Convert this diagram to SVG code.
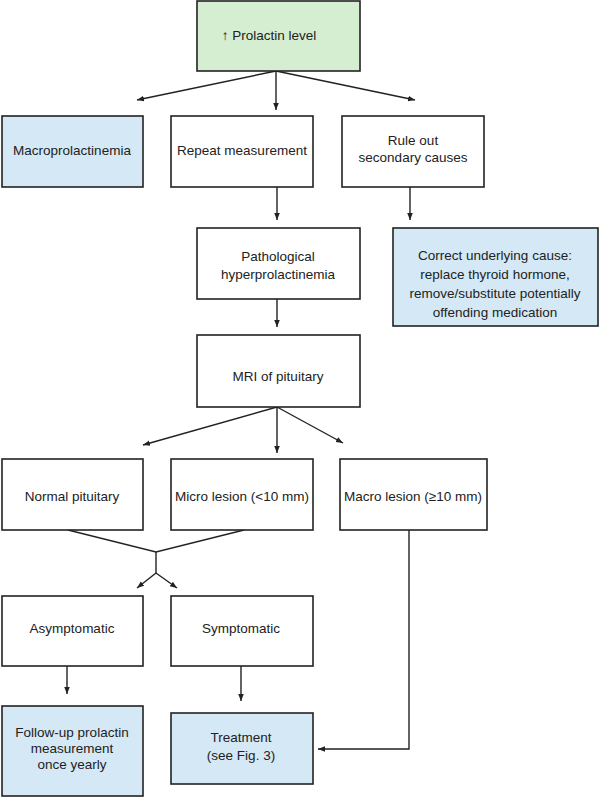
<svg xmlns="http://www.w3.org/2000/svg" width="600" height="797" viewBox="0 0 600 797">
<style>
.box{fill:#fff;stroke:#222;stroke-width:1.6}
.blue{fill:#d4e8f5}
.green{fill:#d5edd0}
text{font-family:"Liberation Sans","DejaVu Sans",sans-serif;font-size:13.5px;fill:#222;text-anchor:middle}
.ln{fill:none;stroke:#222;stroke-width:1.4}
</style>
<defs>
<marker id="ah" viewBox="0 0 10 10" refX="10" refY="5" markerWidth="7" markerHeight="7" orient="auto" markerUnits="userSpaceOnUse">
<path d="M0,1 L10,5 L0,9 Z" fill="#222"/>
</marker>
</defs>
<g id="connectors">
<path class="ln" d="M276,71 L137,100" marker-end="url(#ah)"/>
<path class="ln" d="M276,71 L276,110" marker-end="url(#ah)"/>
<path class="ln" d="M276,71 L415,100" marker-end="url(#ah)"/>
<path class="ln" d="M277,187 L277,220" marker-end="url(#ah)"/>
<path class="ln" d="M410,187 L410,220" marker-end="url(#ah)"/>
<path class="ln" d="M277,299 L277,327" marker-end="url(#ah)"/>
<path class="ln" d="M277,407 L143,445" marker-end="url(#ah)"/>
<path class="ln" d="M277,407 L277,453" marker-end="url(#ah)"/>
<path class="ln" d="M277,407 L343,443" marker-end="url(#ah)"/>
<path class="ln" d="M68,530 L156,552 L244,530"/>
<path class="ln" d="M156,552 L156,573"/>
<path class="ln" d="M156,573 L137,588" marker-end="url(#ah)"/>
<path class="ln" d="M156,573 L177,588" marker-end="url(#ah)"/>
<path class="ln" d="M67,666 L67,694" marker-end="url(#ah)"/>
<path class="ln" d="M241,666 L241,701" marker-end="url(#ah)"/>
<path class="ln" d="M409,530 L409,749 L318,749" marker-end="url(#ah)"/>
</g>
<g id="n_prolactin">
<rect class="box green" x="197" y="1" width="163" height="70"/>
<text x="269" y="40">↑ Prolactin level</text>
</g>
<g id="n_macroprolactinemia">
<rect class="box blue" x="2" y="116" width="141" height="71"/>
<text x="72" y="155">Macroprolactinemia</text>
</g>
<g id="n_repeat">
<rect class="box" x="171" y="116" width="142" height="71"/>
<text x="242" y="155">Repeat measurement</text>
</g>
<g id="n_ruleout">
<rect class="box" x="342" y="116" width="142" height="71"/>
<text x="413" y="145">Rule out</text>
<text x="413" y="162">secondary causes</text>
</g>
<g id="n_pathological">
<rect class="box" x="197" y="228" width="163" height="71"/>
<text x="278" y="261">Pathological</text>
<text x="278" y="279">hyperprolactinemia</text>
</g>
<g id="n_correct">
<rect class="box blue" x="393" y="228" width="205" height="98"/>
<text x="495" y="260">Correct underlying cause:</text>
<text x="495" y="279">replace thyroid hormone,</text>
<text x="495" y="298">remove/substitute potentially</text>
<text x="495" y="317">offending medication</text>
</g>
<g id="n_mri">
<rect class="box" x="197" y="335" width="163" height="72"/>
<text x="278" y="381">MRI of pituitary</text>
</g>
<g id="n_normal">
<rect class="box" x="2" y="459" width="141" height="71"/>
<text x="72" y="501">Normal pituitary</text>
</g>
<g id="n_micro">
<rect class="box" x="171" y="459" width="142" height="71"/>
<text x="242" y="501">Micro lesion (&lt;10 mm)</text>
</g>
<g id="n_macro">
<rect class="box" x="340" y="459" width="147" height="71"/>
<text x="413" y="501">Macro lesion (≥10 mm)</text>
</g>
<g id="n_asymptomatic">
<rect class="box" x="2" y="596" width="141" height="70"/>
<text x="72" y="633">Asymptomatic</text>
</g>
<g id="n_symptomatic">
<rect class="box" x="171" y="596" width="142" height="70"/>
<text x="241" y="633">Symptomatic</text>
</g>
<g id="n_followup">
<rect class="box blue" x="2" y="706" width="141" height="90"/>
<text x="72" y="737">Follow-up prolactin</text>
<text x="72" y="753">measurement</text>
<text x="72" y="769">once yearly</text>
</g>
<g id="n_treatment">
<rect class="box blue" x="171" y="713" width="142" height="71"/>
<text x="241" y="742">Treatment</text>
<text x="241" y="760">(see Fig. 3)</text>
</g>
</svg>
